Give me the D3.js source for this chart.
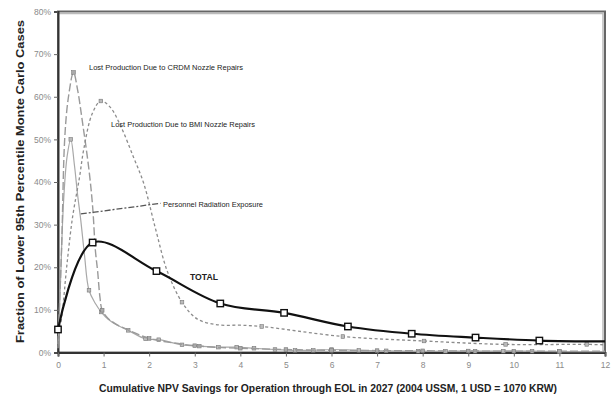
<!DOCTYPE html>
<html>
<head>
<meta charset="utf-8">
<script src="https://cdn.jsdelivr.net/npm/d3@7"></script>
<style>
  html, body { margin: 0; padding: 0; background: #fff; }
  svg { display: block; }
  .lbl { font-family: "Liberation Sans Narrow", "Liberation Sans", Arial, sans-serif; fill: #222; }
</style>
</head>
<body>
<svg id="chart" width="614" height="396"></svg>
<script>
// Cumulative NPV savings (x, M USD) and fraction of cases (y, %)
const xTicks = [0, 1, 2, 3, 4, 5, 6, 7, 8, 9, 10, 11, 12];
const yTicks = [0, 10, 20, 30, 40, 50, 60, 70, 80];

const totalX = [0, 0.76, 2.16, 3.56, 4.96, 6.36, 7.76, 9.16, 10.56, 12];
const totalY = [5.4, 25.8, 19.1, 11.5, 9.3, 6.1, 4.4, 3.5, 2.8, 2.6];
const totalMarks = [0, 1, 2, 3, 4, 5, 6, 7, 8];

const bmiX = [0, 0.1, 0.19, 0.32, 0.47, 0.57, 0.75, 0.94, 1.15, 1.38, 1.65, 1.88, 2.14, 2.4, 2.72, 3.05, 3.5, 4.0, 4.47, 6.25, 8.03, 9.82, 11.6, 12];
const bmiY = [2, 10, 20, 31.8, 41, 48, 56, 59, 57.5, 53, 46, 39.7, 29, 19, 11.8, 7.9, 6.5, 6.4, 6.1, 3.75, 2.7, 1.9, 1.9, 1.8];
const bmiMarks = [7, 14, 18, 19, 20, 21, 22];

const crdmX = [0, 0.08, 0.15, 0.23, 0.34, 0.43, 0.54, 0.68, 0.76, 0.82, 0.87, 0.92, 0.97, 1.1, 1.3, 1.6, 2.0, 2.5, 3.0, 3.5, 4.0, 5, 6, 7, 8, 9, 10, 11, 12];
const crdmY = [2, 25, 50.7, 60, 65.7, 61.6, 53.8, 42.8, 34.2, 24, 19, 13, 9.9, 8.0, 6.5, 5.0, 3.3, 2.3, 1.6, 1.2, 1.0, 0.7, 0.5, 0.45, 0.4, 0.35, 0.3, 0.3, 0.3];
const crdmMarks = [4, 12, 16, 18, 20, 21, 22, 23, 24, 25, 26, 27];

const persX = [0, 0.05, 0.12, 0.2, 0.28, 0.36, 0.43, 0.5, 0.58, 0.68, 0.82, 0.95, 1.1, 1.3, 1.54, 1.92, 2.21, 2.72, 3.1, 3.52, 3.92, 4.3, 4.76, 5.2, 5.6, 6.0, 6.6, 7.2, 7.9, 8.5, 9.15, 9.77, 10.4, 11.0, 12];
const persY = [1, 15, 35, 46, 50, 44, 37, 31, 23, 14.6, 11.5, 9.5, 7.8, 6.4, 5.2, 3.2, 3.0, 1.8, 1.5, 1.25, 1.25, 1.0, 0.7, 0.5, 0.5, 0.7, 0.5, 0.4, 0.3, 0.3, 0.3, 0.3, 0.3, 0.2, 0.2];
const persMarks = [4, 9, 11, 14, 15, 16, 17, 18, 19, 20, 21, 22, 23, 24, 25, 26, 27, 28, 29, 30, 31, 32, 33];

const svg = d3.select("#chart");
const m = { left: 58, right: 9, top: 11.5, bottom: 43.5 };
const W = 614, H = 396;

const x = d3.scaleLinear().domain([0, 12]).range([m.left, W - m.right]);
const y = d3.scaleLinear().domain([0, 80]).range([H - m.bottom, m.top]);

const zip = (xs, ys) => xs.map((v, i) => [v, ys[i]]);
const line = d3.line().x(d => x(d[0])).y(d => y(d[1])).curve(d3.curveCatmullRom.alpha(0.5));

// plot frame with a soft shadow on top/right
svg.append("rect")
  .attr("x", x(0)).attr("y", y(80))
  .attr("width", x(12) - x(0)).attr("height", y(0) - y(80))
  .attr("fill", "#fff").attr("stroke", "#666").attr("stroke-width", 2);
svg.append("path")
  .attr("d", `M${x(0)},${y(80) + 2}H${x(12) - 2}V${y(0)}`)
  .attr("fill", "none").attr("stroke", "#bbb").attr("stroke-width", 1.5);

// axes
const yAxis = svg.append("g").attr("transform", `translate(${x(0)},0)`)
  .call(d3.axisLeft(y).tickValues(yTicks).tickSize(4).tickFormat(d => d + "%"));
const xAxis = svg.append("g").attr("transform", `translate(0,${y(0)})`)
  .call(d3.axisBottom(x).tickValues(xTicks).tickSize(4).tickFormat(d3.format("d")));
[yAxis, xAxis].forEach(g => {
  g.select(".domain").attr("stroke", "#333").attr("stroke-width", 2);
  g.selectAll(".tick line").attr("stroke", "#666");
  g.selectAll(".tick text").attr("fill", "#8a8a8a")
    .style("font-family", "'Liberation Sans Narrow', 'Liberation Sans', Arial, sans-serif")
    .style("font-size", "8.5px");
});
yAxis.selectAll(".tick text").attr("x", -7);
xAxis.selectAll(".tick text").attr("y", 9);

// series
function series(xs, ys, marks, stroke, width, dash, marker) {
  const pts = zip(xs, ys);
  svg.append("path").datum(pts)
    .attr("d", line)
    .attr("fill", "none").attr("stroke", stroke).attr("stroke-width", width)
    .attr("stroke-dasharray", dash);
  const mk = marks.map(i => pts[i]);
  marker(svg.append("g").selectAll("g").data(mk).join("g")
    .attr("transform", d => `translate(${x(d[0])},${y(d[1])})`));
}

const smallMark = color => sel => {
  sel.append("rect").attr("x", -1.8).attr("y", -1.8).attr("width", 3.6).attr("height", 3.6)
    .attr("fill", color).attr("stroke", "#777").attr("stroke-width", 0.6);
};

series(persX, persY, persMarks, "#a8a8a8", 1.2, null, smallMark("#bbb"));
series(crdmX, crdmY, crdmMarks, "#9a9a9a", 1.4, "8,3", smallMark("#aaa"));
series(bmiX, bmiY, bmiMarks, "#8c8c8c", 1.3, "3,2.5", smallMark("#bbb"));
series(totalX, totalY, totalMarks, "#111", 2.2, null, sel => {
  sel.append("rect").attr("x", -3.2).attr("y", -3.2).attr("width", 6.4).attr("height", 6.4)
    .attr("fill", "#fff").attr("stroke", "#111").attr("stroke-width", 1.4);
});

// leader for the personnel exposure label
svg.append("path")
  .attr("d", `M${x(0.5)},${y(32.5)}L${x(2.25)},${y(35)}`)
  .attr("stroke", "#555").attr("stroke-width", 1.3).attr("stroke-dasharray", "6,2,2,2")
  .attr("fill", "none");

// series labels
const label = (tx, ty, txt, len, size, weight) => svg.append("text")
  .attr("class", "lbl").attr("x", tx).attr("y", ty)
  .attr("textLength", len).attr("lengthAdjust", "spacingAndGlyphs")
  .style("font-size", size + "px").style("font-weight", weight || "normal")
  .text(txt);

label(89, 69.5, "Lost Production Due to CRDM Nozzle Repairs", 154, 8);
label(111, 127, "Lost Production Due to BMI Nozzle Repairs", 144, 8);
label(163, 207, "Personnel Radiation Exposure", 100, 8);
label(190, 279.5, "TOTAL", 28, 9, "bold");

// axis titles
svg.append("text").attr("class", "lbl")
  .attr("x", 99).attr("y", 391.5)
  .attr("textLength", 458).attr("lengthAdjust", "spacingAndGlyphs")
  .style("font-size", "11px").style("font-weight", "bold").style("fill", "#222")
  .text("Cumulative NPV Savings for Operation through EOL in 2027 (2004 USSM, 1 USD = 1070 KRW)");

svg.append("text").attr("class", "lbl")
  .attr("transform", "translate(24,343) rotate(-90)")
  .attr("textLength", 323).attr("lengthAdjust", "spacingAndGlyphs")
  .style("font-size", "11px").style("font-weight", "bold").style("fill", "#222")
  .text("Fraction of Lower 95th Percentile Monte Carlo Cases");
</script>
</body>
</html>
